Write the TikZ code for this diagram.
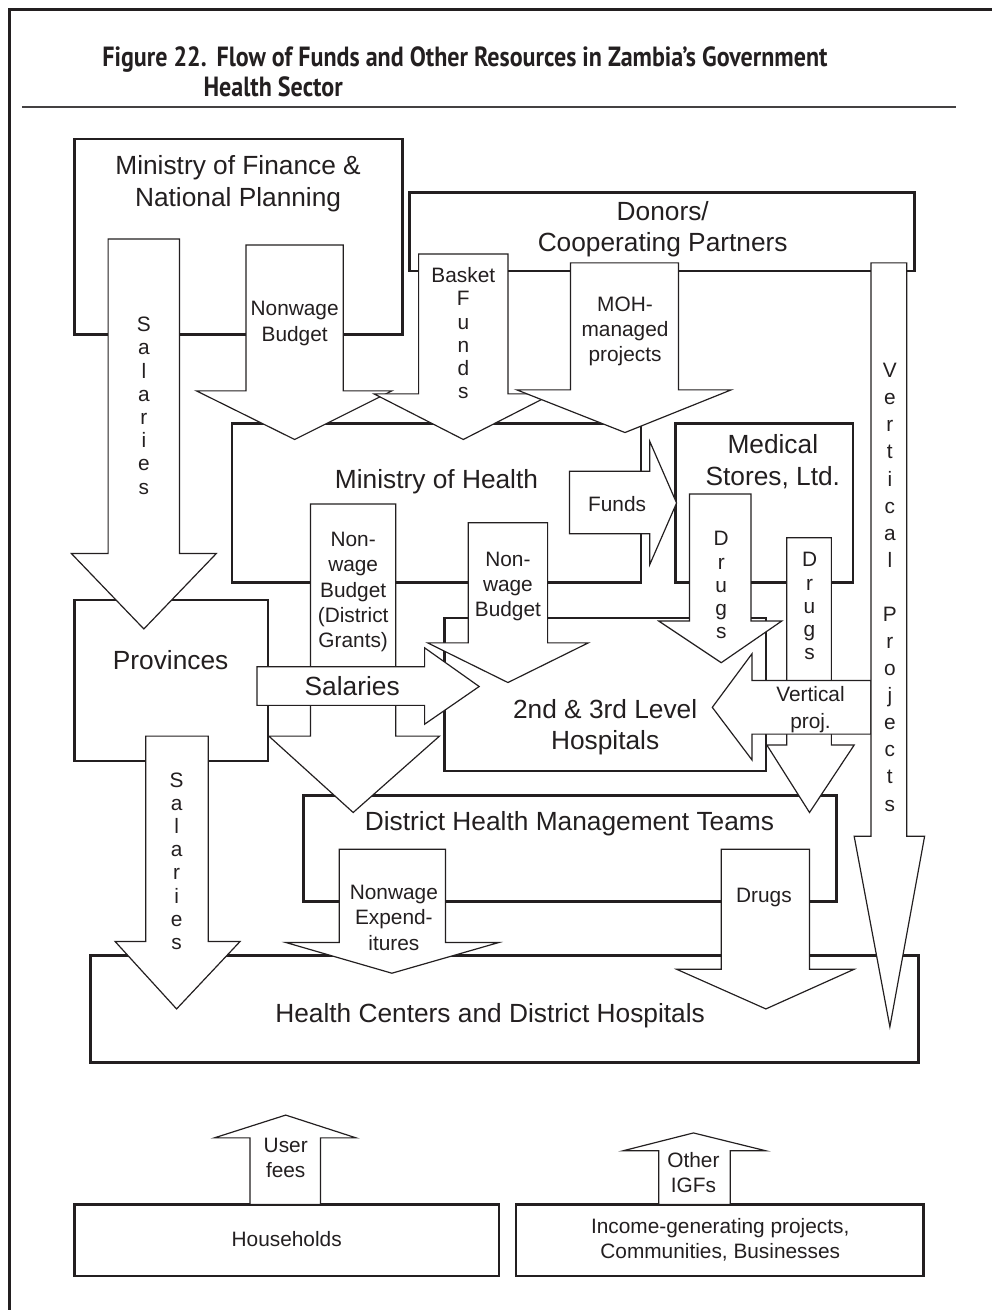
\documentclass[tikz,border=0pt]{standalone}
\usepackage{fontspec}
\setmainfont{Liberation Sans}
\newfontfamily\titlefont[FakeStretch=0.865]{PT Sans}
\usepackage{tikz}
\definecolor{ink}{HTML}{231F20}

\begin{document}
\begin{tikzpicture}[x=1pt,y=-1pt,
		box/.style={draw=ink, line width=2.6pt, fill=white},
		flow/.style={draw=ink, line width=1.2pt, fill=white, line join=miter},
		big/.style={font=\fontsize{26.5}{32}\selectfont, align=center, inner sep=0pt, text=ink},
		lbl/.style={font=\fontsize{21}{25.5}\selectfont, align=center, inner sep=0pt, text=ink},
		stack/.style={font=\fontsize{21}{23.4}\selectfont, align=center, inner sep=0pt, text=ink},
		ttl/.style={font=\titlefont\bfseries\fontsize{28}{30}\selectfont, inner sep=0pt, text=ink}]
			{\useasboundingbox (0,0) rectangle (989,1311);}
			% frame and title
			{\draw[ink, line width=3pt] (10,1320) -- (10,10) -- (1000,10);}
			{\node[ttl, anchor=base west] (title) at (103,67) {Figure 22.\hspace{10pt}Flow of Funds and Other Resources in Zambia’s Government};}
			{\node[ttl, anchor=base west] (title2) at (205,97) {Health Sector};}
			{\draw[ink!85, line width=1.3pt] (22,108) -- (964,108);}
			% boxes
			{\draw[box] (75,140) rectangle (406,337);}
			{\draw[box] (413,194) rectangle (922,273);}
			{\draw[box] (234,427) rectangle (646,587);}
			{\draw[box] (681,427) rectangle (860,587);}
			{\draw[box] (75,605) rectangle (270,767);}
			{\draw[box] (448,623) rectangle (772,777);}
			{\draw[box] (306,802) rectangle (843,909);}
			{\draw[box] (91,963) rectangle (926,1071);}
			{\draw[box] (75,1214) rectangle (503,1286);}
			{\draw[box] (520,1214) rectangle (931,1286);}
			{\node[big] (mof) at (240,185) {Ministry of Finance \&\\National Planning};}
			{\node[big] (donors) at (668,231) {Donors/\\Cooperating Partners};}
			{\node[big] (moh) at (440,486) {Ministry of Health};}
			{\node[big] (mst) at (779,465) {Medical\\Stores, Ltd.};}
			{\node[big] (prov) at (172,665) {Provinces};}
			{\node[big] (hosp) at (610,733) {2nd \& 3rd Level\\Hospitals};}
			{\node[big] (dhmt) at (574,830) {District Health Management Teams};}
			{\node[big] (hc) at (494,1024) {Health Centers and District Hospitals};}
			{\node[lbl] (hh) at (289,1249) {Households};}
			{\node[lbl] (igp) at (726,1250) {Income-generating projects,\\Communities, Businesses};}
			% flows from the ministry of finance and the donors
			{\draw[flow] (109,241) -- (109,558) -- (72,558) -- (145,634) -- (218,558) -- (181,558) -- (181,241) -- cycle;}
			{\node[stack] (salup) at (145,409) {S\\a\\l\\a\\r\\i\\e\\s};}
			{\draw[flow] (248,247) -- (248,394) -- (198,394) -- (297,443) -- (395,394) -- (346,394) -- (346,247) -- cycle;}
			{\node[lbl] (nwmof) at (297,326) {Nonwage\\Budget};}
			{\draw[flow] (422,256) -- (422,397) -- (377,397) -- (467,443) -- (557,397) -- (512,397) -- (512,256) -- cycle;}
			{\node[stack] (basket) at (467,336) {Basket\\F\\u\\n\\d\\s};}
			{\draw[flow] (575,265) -- (575,393) -- (521,393) -- (630,436) -- (737,393) -- (684,393) -- (684,265) -- cycle;}
			{\node[lbl] (mohproj) at (630,334) {MOH-\\managed\\projects};}
			{\draw[flow] (574,475) -- (655,475) -- (655,445) -- (682,507) -- (655,569) -- (655,538) -- (574,538) -- cycle;}
			{\node[lbl] (funds) at (622,508) {Funds};}
			% flows from the ministry of health
			{\draw[flow] (313,508) -- (313,742) -- (271,742) -- (356,819) -- (443,742) -- (399,742) -- (399,508) -- cycle;}
			{\node[lbl] (nwdg) at (356,597) {Non-\\wage\\Budget\\(District\\Grants)};}
			{\draw[flow] (472,527) -- (472,648) -- (431,648) -- (512,688) -- (593,648) -- (552,648) -- (552,527) -- cycle;}
			{\node[lbl] (nwmoh) at (512,591) {Non-\\wage\\Budget};}
			{\draw[flow] (259,672) -- (428,672) -- (428,653) -- (483,692) -- (428,730) -- (428,711) -- (259,711) -- cycle;}
			{\node[big] (salh) at (355,692) {Salaries};}
			% drugs and vertical projects
			{\draw[flow] (695,498) -- (695,626) -- (664,626) -- (727,668) -- (788,626) -- (757,626) -- (757,498) -- cycle;}
			{\node[stack] (drugsa) at (727,590) {D\\r\\u\\g\\s};}
			{\draw[flow] (793,542) -- (793,751) -- (773,751) -- (816,819) -- (861,751) -- (838,751) -- (838,542) -- cycle;}
			{\node[stack] (drugsb) at (816,611) {D\\r\\u\\g\\s};}
			{\draw[flow] (878,686) -- (758,686) -- (758,659) -- (718,713) -- (758,766) -- (758,740) -- (878,740) -- cycle;}
			{\node[lbl, font=\fontsize{21}{27}\selectfont] (vert) at (817,715) {Vertical\\proj.};}
			{\draw[flow] (878,265) -- (878,843) -- (861,843) -- (897,1035) -- (932,843) -- (914,843) -- (914,265) -- cycle;}
			{\node[stack, font=\fontsize{21}{27.3}\selectfont] (vproj) at (897,592) {V\\e\\r\\t\\i\\c\\a\\l\\[27.3pt]P\\r\\o\\j\\e\\c\\t\\s};}
			% flows to the health centers
			{\draw[flow] (147,742) -- (147,949) -- (116,949) -- (178,1017) -- (242,949) -- (210,949) -- (210,742) -- cycle;}
			{\node[stack] (sallow) at (178,868) {S\\a\\l\\a\\r\\i\\e\\s};}
			{\draw[flow] (342,856) -- (342,950) -- (288,950) -- (395,981) -- (503,950) -- (449,950) -- (449,856) -- cycle;}
			{\node[lbl] (nwexp) at (397,925) {Nonwage\\Expend-\\itures};}
			{\draw[flow] (727,856) -- (727,977) -- (682,977) -- (772,1017) -- (861,977) -- (816,977) -- (816,856) -- cycle;}
			{\node[lbl] (drugsc) at (770,905) {Drugs};}
			% other income
			{\draw[flow] (252,1214) -- (252,1147) -- (216,1147) -- (288,1124) -- (359,1147) -- (323,1147) -- (323,1214) -- cycle;}
			{\node[lbl] (fees) at (288,1167) {User\\fees};}
			{\draw[flow] (664,1214) -- (664,1160) -- (628,1160) -- (699,1142) -- (772,1160) -- (736,1160) -- (736,1214) -- cycle;}
			{\node[lbl] (igf) at (699,1182) {Other\\IGFs};}
		\end{tikzpicture}
\end{document}
